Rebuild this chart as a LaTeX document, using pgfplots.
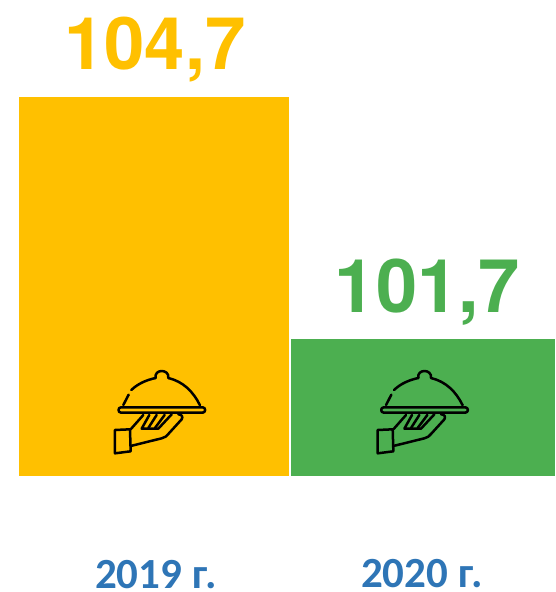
\documentclass[border=0pt]{standalone}
\usepackage{pgfplots}
\pgfplotsset{compat=1.18}
\usepackage{fontspec}
\setmainfont{TeX Gyre Heros}
\newfontfamily\carlito{Carlito}
\definecolor{cyellow}{HTML}{FFC000}
\definecolor{cgreen}{HTML}{4CAF50}
\definecolor{cblue}{HTML}{2E75B6}
\newcommand{\servericon}[2]{%
\begin{scope}[shift={(#1,#2)},x=0.3333pt,y=-0.3333pt,line width=2.5pt,black,line cap=round,line join=round]
\draw (100,165) -- (116,134);
\draw (124,120) .. controls (145,100) and (170,90) .. (197,84);
\draw (235,84) .. controls (280,95) and (310,125) .. (330,166);
\draw (197,84) .. controls (194,70) and (205,63) .. (215,63) .. controls (226,63) and (237,70) .. (235,84);
\draw (93,172) -- (338,172) .. controls (348,172) and (348,188) .. (338,188) -- (93,188) .. controls (83,188) and (83,172) .. (93,172);
\draw (75,240) -- (120,238) -- (122,304) -- (75,310) -- cycle;
\draw (122,238) -- (160,195);
\draw (122,288) -- (215,265) .. controls (225,263) and (230,258) .. (235,252) -- (275,208) .. controls (280,200) and (275,193) .. (265,193);
\draw (178,195) -- (155,236) -- (205,236) -- (245,193);
\draw (200,195) -- (175,234);
\draw (224,195) -- (195,234);
\end{scope}}
\begin{document}
\begin{tikzpicture}[x=1pt,y=1pt]
\useasboundingbox (0,0) rectangle (555,592);
\begin{axis}[
  at={(0,0)},anchor=south west,
  width=555pt,height=592pt,scale only axis,
  xmin=0,xmax=555,ymin=98.56,ymax=105.90,
  hide axis,clip=false]
\addplot[fill=cyellow,draw=none] coordinates {(19,100)(19,104.7)(289,104.7)(289,100)} -- cycle;
\addplot[fill=cgreen,draw=none] coordinates {(291,100)(291,101.7)(555,101.7)(555,100)} -- cycle;
\end{axis}
\begin{scope}[shift={(0,592)},y=-1pt]
\node[anchor=base,inner sep=0pt,text=cyellow,font=\fontsize{72.5}{72}\selectfont\bfseries] at (155,70) {104,7};
\node[anchor=base,inner sep=0pt,text=cgreen,font=\fontsize{74}{74}\selectfont\bfseries] at (427.5,313) {101,7};
\node[anchor=base,inner sep=0pt,text=cblue,font=\carlito\fontsize{43}{43}\selectfont\bfseries] at (156,588.5) {2019 г.};
\node[anchor=base,inner sep=0pt,text=cblue,font=\carlito\fontsize{43}{43}\selectfont\bfseries] at (422,587) {2020 г.};
\end{scope}
\servericon{90pt}{242pt}
\servericon{352.7pt}{242pt}
\end{tikzpicture}
\end{document}
